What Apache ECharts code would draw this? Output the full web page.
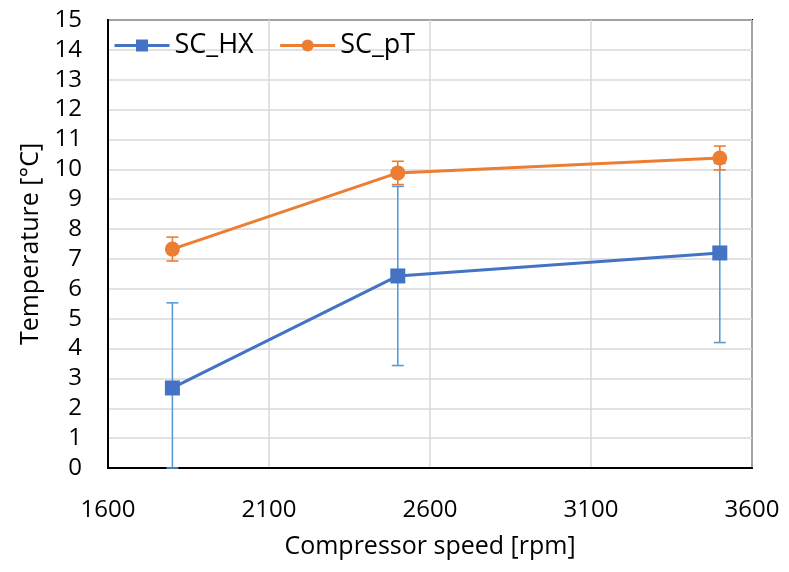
<!DOCTYPE html>
<html>
<head>
<meta charset="utf-8">
<script src="https://cdn.jsdelivr.net/npm/echarts@6/dist/echarts.min.js"></script>
<style>
html,body{margin:0;padding:0;background:#fff;}
#chart{width:789px;height:572px;}
</style>
</head>
<body>
<div id="chart"></div>
<script>
// speeds [rpm]
var speeds = [1800, 2500, 3500];
// SC_HX mean and +/- error
var hxVals = [2.68, 6.43, 7.2];
var hxErr = [2.85, 3.0, 3.0];
// SC_pT mean and +/- error
var ptVals = [7.33, 9.88, 10.38];
var ptErr = [0.4, 0.39, 0.4];

var font = 'Open Sans';
var chart = echarts.init(document.getElementById('chart'));

function pairs(vals){
	var out = [];
	for (var i = 0; i < speeds.length; i++) out.push([speeds[i], vals[i]]);
	return out;
}
function errData(vals, err){
	var out = [];
	for (var i = 0; i < speeds.length; i++) {
		out.push([speeds[i], Math.max(0, vals[i] - err[i]), vals[i] + err[i]]);
	}
	return out;
}
function errRender(color){
	return function(params, api){
		var lo = api.coord([api.value(0), api.value(1)]);
		var hi = api.coord([api.value(0), api.value(2)]);
		var w = 6;
		var st = {stroke: color, lineWidth: 1.6};
		return {
			type: 'group',
			children: [
				{type: 'line', shape: {x1: lo[0], y1: lo[1], x2: hi[0], y2: hi[1]}, style: st},
				{type: 'line', shape: {x1: hi[0]-w, y1: hi[1], x2: hi[0]+w, y2: hi[1]}, style: st},
				{type: 'line', shape: {x1: lo[0]-w, y1: lo[1], x2: lo[0]+w, y2: lo[1]}, style: st}
			]
		};
	};
}

var options = {
	animation: false,
	textStyle: {fontFamily: font},
	grid: {left: 108, right: 37, top: 20, bottom: 104, show: true, borderColor: '#000', borderWidth: 2},
	legend: {
		left: 108, top: 32, padding: [0, 0, 0, 5],
		itemWidth: 55, itemHeight: 15, itemGap: 25,
		lineStyle: {width: 3},
		textStyle: {fontSize: 27, color: '#000', fontFamily: font},
		data: ['SC_HX', 'SC_pT']
	},
	xAxis: {
		type: 'value', min: 1600, max: 3600, interval: 500,
		name: 'Compressor speed [rpm]', nameLocation: 'middle', nameGap: 66,
		nameTextStyle: {fontSize: 25, color: '#000'},
		axisLine: {lineStyle: {color: '#000', width: 2}},
		axisTick: {show: false},
		axisLabel: {fontSize: 24, color: '#000', margin: 30, formatter: function(v){ return String(v); }},
		splitLine: {show: true, lineStyle: {color: '#d9d9d9', width: 1.5}}
	},
	yAxis: {
		type: 'value', min: 0, max: 15, interval: 1,
		name: 'Temperature [°C]', nameLocation: 'middle', nameGap: 62, nameRotate: 90,
		nameTextStyle: {fontSize: 25, color: '#000'},
		axisLine: {show: true, lineStyle: {color: '#000', width: 2}},
		axisTick: {show: false},
		axisLabel: {fontSize: 24, color: '#000', margin: 26},
		splitLine: {show: true, lineStyle: {color: '#d9d9d9', width: 1.5}}
	},
	series: [
		{
			type: 'custom', name: 'hxErr', data: errData(hxVals, hxErr),
			renderItem: errRender('#5b9bd5'), z: 1, silent: true
		},
		{
			type: 'custom', name: 'ptErr', data: errData(ptVals, ptErr),
			renderItem: errRender('#ed7d31'), z: 1, silent: true
		},
		{
			name: 'SC_HX', type: 'line', data: pairs(hxVals),
			symbol: 'rect', symbolSize: 15, z: 3,
			lineStyle: {color: '#4472c4', width: 3},
			itemStyle: {color: '#4472c4'}
		},
		{
			name: 'SC_pT', type: 'line', data: pairs(ptVals),
			symbol: 'circle', symbolSize: 15, z: 3,
			lineStyle: {color: '#ed7d31', width: 3},
			itemStyle: {color: '#ed7d31'}
		}
	]
};
chart.setOption(options);
</script>
</body>
</html>
